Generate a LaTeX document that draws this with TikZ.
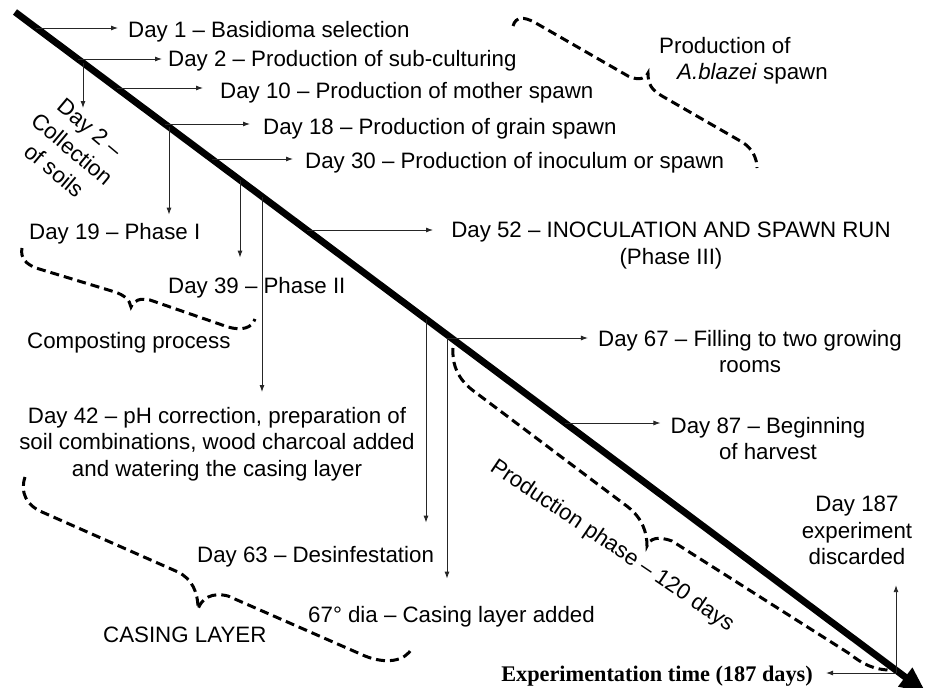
\documentclass[tikz,border=0pt]{standalone}
\usepackage{fontspec}
\setmainfont{Liberation Sans}
\newfontfamily\serifbold{Liberation Serif}
\usetikzlibrary{arrows.meta}
\begin{document}
\begin{tikzpicture}[x=1pt,y=-1pt,
  txt/.style={inner sep=0pt, font=\fontsize{22.3}{26.5}\selectfont},
  mainline/.style={line width=6.8pt, -{Triangle[length=26pt,width=22pt]}},
  arr/.style={line width=0.9pt, draw=black!85, -{Latex[length=7pt,width=5pt]}},
  brc/.style={line width=3pt, dash pattern=on 9pt off 5pt}]
\useasboundingbox (0,0) rectangle (927,688);

% texts
\node[txt, anchor=base west] (d1) at (128,37) {Day 1 – Basidioma selection};
\node[txt, anchor=base west] (d2) at (168,66) {Day 2 – Production of sub-culturing};
\node[txt, anchor=base west] (d10) at (220,98) {Day 10 – Production of mother spawn};
\node[txt, anchor=base west] (d18) at (263,134) {Day 18 – Production of grain spawn};
\node[txt, anchor=base west] (d30) at (305,168) {Day 30 – Production of inoculum or spawn};
\node[txt, anchor=base west] (d19) at (29,239) {Day 19 – Phase I};
\node[txt, anchor=base west] (d39) at (168,293) {Day 39 – Phase II};
\node[txt, anchor=base west] (comp) at (27,348) {Composting process};
\node[txt, align=center, anchor=north] (d42) at (217,407) {Day 42 – pH correction, preparation of\\soil combinations, wood charcoal added\\and watering the casing layer};
\node[txt, align=center, anchor=north] (d52) at (671,222) {Day 52 – INOCULATION AND SPAWN RUN\\(Phase III)};
\node[txt, align=center, anchor=north] (d67) at (750,330) {Day 67 – Filling to two growing\\rooms};
\node[txt, align=center, anchor=north] (d87) at (768,417) {Day 87 – Beginning\\of harvest};
\node[txt, align=center, anchor=north] (d187) at (857,496) {Day 187\\experiment\\discarded};
\node[txt, anchor=base west] (d63) at (197,562) {Day 63 – Desinfestation};
\node[txt, anchor=base west] (d67b) at (308,622) {67° dia – Casing layer added};
\node[txt, anchor=base west] (casing) at (103,642) {CASING LAYER};
\node[txt, anchor=base east, font=\serifbold\bfseries\fontsize{22.3}{26}\selectfont] (exp) at (813,681) {Experimentation time (187 days)};
\node[txt, align=left, anchor=north west] (spawn) at (659,37) {Production of\\\hspace*{18pt}\textit{A.blazei} spawn};
\node[txt, align=center, rotate=-40, font=\fontsize{22.3}{28}\selectfont] (soils) at (72,149) {Day 2 –\\Collection\\of soils};
\node[txt, rotate=-34] (pp) at (612,546) {Production phase – 120 days};

% main time line
\coordinate (S) at (15,12);
\coordinate (E) at (926,692.6);
\draw[mainline] (S) -- (E);

% points on the time line
\coordinate (a1) at (36.4,28);
\coordinate (a2) at (77.9,59);
\coordinate (a10) at (116.7,88);
\coordinate (a18) at (164.9,124);
\coordinate (a30) at (211.8,159);
\coordinate (a52) at (306.8,230);
\coordinate (a87) at (565,423);
\coordinate (v2) at (83,62.8);
\coordinate (v18) at (169,127);
\coordinate (v39) at (240,180);
\coordinate (v42) at (262,196.5);
\coordinate (v63) at (426,319);
\coordinate (v67) at (447,338);
\coordinate (c187) at (896,673);
\coordinate (v2end) at (83,108);

% horizontal arrows
\draw[arr, shorten >=10pt] (a1) -- (a1 -| d1.west);
\draw[arr, shorten >=6pt] (a2) -- (a2 -| d2.west);
\draw[arr, shorten >=17pt] (a10) -- (a10 -| d10.west);
\draw[arr, shorten >=13pt] (a18) -- (a18 -| d18.west);
\draw[arr, shorten >=12pt] (a30) -- (a30 -| d30.west);
\draw[arr, shorten >=18pt] (a52) -- (a52 -| d52.west);
\draw[arr, shorten >=10pt] (v67) -- (v67 -| d67.west);
\draw[arr, shorten >=10pt] (a87) -- (a87 -| d87.west);

% vertical arrows
\draw[arr] (v2) -- (v2end);
\draw[arr, shorten >=8pt] (v18) -- (v18 |- d19.north);
\draw[arr, shorten >=19pt] (v39) -- (v39 |- d39.north);
\draw[arr, shorten >=15pt] (v42) -- (v42 |- d42.north);
\draw[arr, shorten >=23pt] (v63) -- (v63 |- d63.north);
\draw[arr, shorten >=27pt] (v67) -- (v67 |- d67b.north);
\draw[arr, shorten >=20pt] (c187) -- (c187 |- d187.south);
\draw[arr, shorten >=13pt] (c187) -- (c187 -| exp.east);

% dashed braces
\draw[brc] (513,26) .. controls (516,16) and (524,17) .. (534,22) -- (628,76)
  .. controls (636,80) and (645,80) .. (648,73)
  .. controls (648,85) and (652,90) .. (662,96) -- (742,142)
  .. controls (752,148) and (757,158) .. (757,168);
\draw[brc] (22,248) .. controls (20,258) and (26,264) .. (36,268) -- (115,292)
  .. controls (124,295) and (130,300) .. (131,307)
  .. controls (134,300) and (140,298) .. (150,300) -- (228,327)
  .. controls (242,331) and (252,328) .. (255,319);
\draw[brc] (25,477) .. controls (20,492) and (26,505) .. (42,512) -- (178,572)
  .. controls (192,579) and (198,592) .. (198,609)
  .. controls (202,598) and (212,592) .. (228,596) -- (365,656)
  .. controls (385,664) and (405,662) .. (412,648);
\draw[brc] (453,348) .. controls (452,365) and (458,380) .. (475,392) -- (628,507)
  .. controls (642,518) and (647,532) .. (647,546)
  .. controls (650,538) and (658,536) .. (672,541) -- (850,654)
  .. controls (862,664) and (875,670) .. (890,670);
\end{tikzpicture}
\end{document}
